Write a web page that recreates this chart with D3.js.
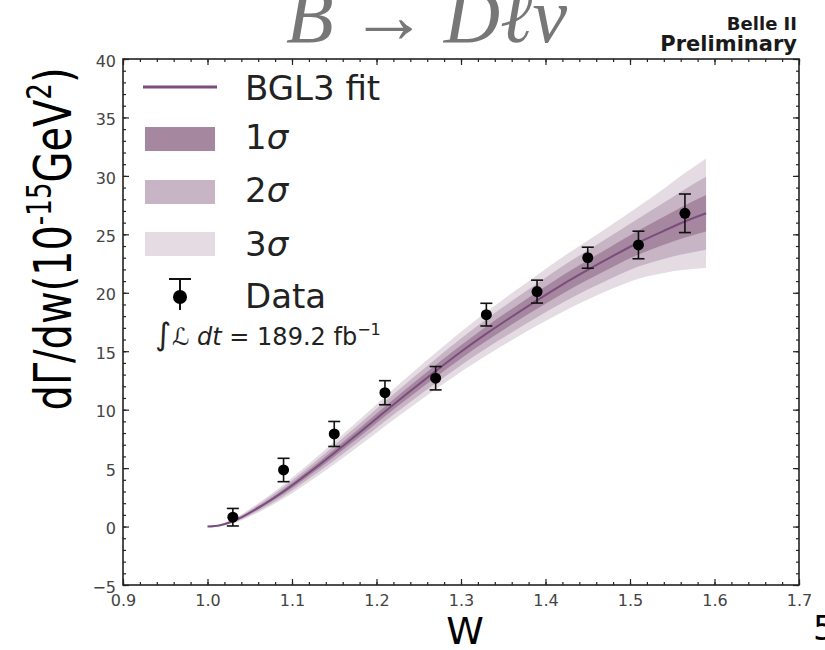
<!DOCTYPE html>
<html>
<head>
<meta charset="utf-8">
<script src="https://cdn.jsdelivr.net/npm/d3@7"></script>
<style>
  html, body { margin: 0; padding: 0; background: #fff; }
  svg { display: block; }
</style>
</head>
<body>
<script>
// ---- data ----
const xTicks = [0.9, 1.0, 1.1, 1.2, 1.3, 1.4, 1.5, 1.6, 1.7];
const xTickLabels = ["0.9", "1.0", "1.1", "1.2", "1.3", "1.4", "1.5", "1.6", "1.7"];
const yTicks = [-5, 0, 5, 10, 15, 20, 25, 30, 35, 40];

// BGL3 fit: central curve and 1/2/3 sigma half-widths
const fitW       = [1.00, 1.015, 1.03, 1.06, 1.09, 1.12, 1.15, 1.18, 1.21, 1.24, 1.27, 1.30, 1.33, 1.36, 1.39, 1.42, 1.45, 1.48, 1.51, 1.54, 1.565, 1.59];
const fitCentral = [0.00, 0.12, 0.45, 1.60, 3.00, 4.60, 6.30, 8.05, 9.85, 11.6, 13.3, 14.95, 16.5, 17.95, 19.35, 20.7, 21.95, 23.15, 24.3, 25.3, 26.1, 26.8];
const fitSigma1  = [0.00, 0.02, 0.06, 0.13, 0.20, 0.26, 0.32, 0.37, 0.42, 0.47, 0.52, 0.57, 0.62, 0.67, 0.72, 0.78, 0.84, 0.92, 1.03, 1.20, 1.38, 1.56];
const fitSigma2  = [0.00, 0.04, 0.12, 0.26, 0.40, 0.52, 0.64, 0.74, 0.84, 0.94, 1.04, 1.14, 1.24, 1.34, 1.44, 1.56, 1.68, 1.84, 2.06, 2.40, 2.76, 3.12];
const fitSigma3  = [0.00, 0.06, 0.18, 0.39, 0.60, 0.78, 0.96, 1.11, 1.26, 1.41, 1.56, 1.71, 1.86, 2.01, 2.16, 2.34, 2.52, 2.76, 3.09, 3.60, 4.14, 4.68];

// measured points
const dataW   = [1.03, 1.09, 1.15, 1.21, 1.27, 1.33, 1.39, 1.45, 1.51, 1.565];
const dataY   = [0.80, 4.84, 7.92, 11.45, 12.69, 18.13, 20.10, 23.00, 24.09, 26.80];
const dataErr = [0.75, 1.00, 1.07, 1.03, 1.00, 0.97, 0.98, 0.90, 1.18, 1.65];

const legendLabels = ["BGL3 fit", "1", "2", "3", "Data"];

// ---- style ----
const C = {
  line: "#7b4d7e",
  s1: "#a5879f",
  s2: "#c7b5c6",
  s3: "#e4dbe3",
  axis: "#222",
  tickText: "#444"
};

const W = 825, H = 650;
const svg = d3.select("body").append("svg").attr("width", W).attr("height", H);
svg.append("rect").attr("width", W).attr("height", H).attr("fill", "#fff");

const x = d3.scaleLinear().domain([0.9, 1.7]).range([123, 799]);
const y = d3.scaleLinear().domain([-5, 40]).range([585, 59]);

const fit = fitW.map((w, i) => ({ w, c: fitCentral[i], s1: fitSigma1[i], s2: fitSigma2[i], s3: fitSigma3[i] }));

// ---- bands ----
const band = key => d3.area()
  .x(d => x(d.w))
  .y0(d => y(d.c - d[key]))
  .y1(d => y(d.c + d[key]))
  .curve(d3.curveMonotoneX);

const plot = svg.append("g");
plot.append("path").datum(fit).attr("d", band("s3")).attr("fill", C.s3);
plot.append("path").datum(fit).attr("d", band("s2")).attr("fill", C.s2);
plot.append("path").datum(fit).attr("d", band("s1")).attr("fill", C.s1);
plot.append("path").datum(fit)
  .attr("d", d3.line().x(d => x(d.w)).y(d => y(d.c)).curve(d3.curveMonotoneX))
  .attr("fill", "none").attr("stroke", C.line).attr("stroke-width", 2);

// ---- data points with error bars ----
const pts = dataW.map((w, i) => ({ w, v: dataY[i], e: dataErr[i] }));
const pg = plot.append("g").selectAll("g").data(pts).join("g");
pg.append("line")
  .attr("x1", d => x(d.w)).attr("x2", d => x(d.w))
  .attr("y1", d => y(d.v - d.e)).attr("y2", d => y(d.v + d.e))
  .attr("stroke", "#111").attr("stroke-width", 1.6);
[-1, 1].forEach(s => {
  pg.append("line")
    .attr("x1", d => x(d.w) - 6).attr("x2", d => x(d.w) + 6)
    .attr("y1", d => y(d.v + s * d.e)).attr("y2", d => y(d.v + s * d.e))
    .attr("stroke", "#111").attr("stroke-width", 1.6);
});
pg.append("circle").attr("cx", d => x(d.w)).attr("cy", d => y(d.v)).attr("r", 5.5).attr("fill", "#000");

// ---- axes (inward ticks on all four sides) ----
const xMinor = d3.range(90, 171, 2).map(v => v / 100);
const yMinor = d3.range(-5, 41, 1);

function styleAxis(g) {
  g.select(".domain").remove();
  g.selectAll(".tick line").attr("stroke", C.axis).attr("stroke-width", 1.2);
  g.selectAll("text").attr("font-family", "DejaVu Sans").attr("font-size", 16).attr("fill", C.tickText);
}

svg.append("g").attr("transform", "translate(0,585)")
  .call(d3.axisBottom(x).tickValues(xTicks).tickFormat((d, i) => xTickLabels[i]).tickSize(-6).tickPadding(10))
  .call(styleAxis);
svg.append("g").attr("transform", "translate(0,585)")
  .call(d3.axisBottom(x).tickValues(xMinor).tickFormat("").tickSize(-3)).call(styleAxis);
svg.append("g").attr("transform", "translate(0,59)")
  .call(d3.axisTop(x).tickValues(xTicks).tickFormat("").tickSize(-6)).call(styleAxis);
svg.append("g").attr("transform", "translate(0,59)")
  .call(d3.axisTop(x).tickValues(xMinor).tickFormat("").tickSize(-3)).call(styleAxis);

svg.append("g").attr("transform", "translate(123,0)")
  .call(d3.axisLeft(y).tickValues(yTicks).tickFormat(d3.format("d")).tickSize(-6).tickPadding(7))
  .call(styleAxis)
  .selectAll("text").attr("dy", "0.45em");
svg.append("g").attr("transform", "translate(123,0)")
  .call(d3.axisLeft(y).tickValues(yMinor).tickFormat("").tickSize(-3)).call(styleAxis);
svg.append("g").attr("transform", "translate(799,0)")
  .call(d3.axisRight(y).tickValues(yTicks).tickFormat("").tickSize(-6)).call(styleAxis);
svg.append("g").attr("transform", "translate(799,0)")
  .call(d3.axisRight(y).tickValues(yMinor).tickFormat("").tickSize(-3)).call(styleAxis);

svg.append("rect")
  .attr("x", x(0.9)).attr("y", y(40))
  .attr("width", x(1.7) - x(0.9)).attr("height", y(-5) - y(40))
  .attr("fill", "none").attr("stroke", C.axis).attr("stroke-width", 1.6);

// ---- legend ----
const lg = svg.append("g").attr("font-family", "DejaVu Sans").attr("font-size", 34).attr("fill", "#222");
lg.append("line").attr("x1", 143).attr("x2", 217).attr("y1", 87).attr("y2", 87)
  .attr("stroke", C.line).attr("stroke-width", 3);
lg.append("text").attr("x", 245).attr("y", 100).text(legendLabels[0]);

[[C.s1, 127, 149], [C.s2, 180, 202], [C.s3, 232, 256]].forEach(([col, top, base], i) => {
  lg.append("rect").attr("x", 145).attr("y", top).attr("width", 70).attr("height", 24).attr("fill", col);
  const t = lg.append("text").attr("x", 245).attr("y", base);
  t.append("tspan").text(legendLabels[i + 1]);
  t.append("tspan").attr("font-style", "italic").text("σ");
});

lg.append("line").attr("x1", 180).attr("x2", 180).attr("y1", 279).attr("y2", 310).attr("stroke", "#111").attr("stroke-width", 2);
lg.append("line").attr("x1", 169).attr("x2", 191).attr("y1", 279).attr("y2", 279).attr("stroke", "#111").attr("stroke-width", 2);
lg.append("circle").attr("cx", 180).attr("cy", 297).attr("r", 7).attr("fill", "#000");
lg.append("text").attr("x", 245).attr("y", 308).text(legendLabels[4]);

// integrated luminosity
const lum = svg.append("text").attr("x", 155).attr("y", 345)
  .attr("font-family", "DejaVu Sans").attr("font-size", 24).attr("fill", "#222");
lum.append("tspan").attr("font-size", 31).text("∫");
lum.append("tspan").attr("dx", 1).attr("font-style", "italic").text("ℒ");
lum.append("tspan").attr("font-style", "italic").text(" dt");
lum.append("tspan").text(" = 189.2 fb");
lum.append("tspan").attr("dy", -10).attr("font-size", 16).text("−1");

// ---- axis titles ----
svg.append("text").attr("x", 465).attr("y", 644).attr("text-anchor", "middle")
  .attr("font-family", "DejaVu Sans").attr("font-size", 38).attr("fill", "#000").text("W");

const yl = svg.append("text").attr("text-anchor", "middle")
  .attr("font-family", "DejaVu Sans").attr("font-size", 52).attr("fill", "#000");
yl.append("tspan").text("dΓ/dw(10");
yl.append("tspan").attr("dy", -20).attr("font-size", 34).text("-15");
yl.append("tspan").attr("dy", 20).text("GeV");
yl.append("tspan").attr("dy", -20).attr("font-size", 34).text("2");
yl.append("tspan").attr("dy", 20).text(")");
const ylLen = yl.node().getComputedTextLength();
yl.attr("transform", `translate(71,239) rotate(-90) scale(${343 / ylLen},1)`);

// ---- title and header ----
const title = svg.append("text").attr("x", 286).attr("y", 42)
  .attr("font-family", "Liberation Serif").attr("font-size", 78).attr("fill", "#777");
title.append("tspan").attr("font-style", "italic").text("B");
title.append("tspan").attr("dx", 16).text("→");
title.append("tspan").attr("dx", 16).attr("font-style", "italic").text("Dℓν");

svg.append("text").attr("x", 797).attr("y", 30).attr("text-anchor", "end")
  .attr("font-family", "DejaVu Sans").attr("font-weight", "bold").attr("font-size", 18).attr("fill", "#1a1a1a").text("Belle II");
svg.append("text").attr("x", 797).attr("y", 51).attr("text-anchor", "end")
  .attr("font-family", "DejaVu Sans").attr("font-weight", "bold").attr("font-size", 21).attr("fill", "#1a1a1a").text("Preliminary");

// slide page number at the edge
svg.append("text").attr("x", 813).attr("y", 640)
  .attr("font-family", "DejaVu Sans").attr("font-size", 34).attr("fill", "#000").text("5");
</script>
</body>
</html>
